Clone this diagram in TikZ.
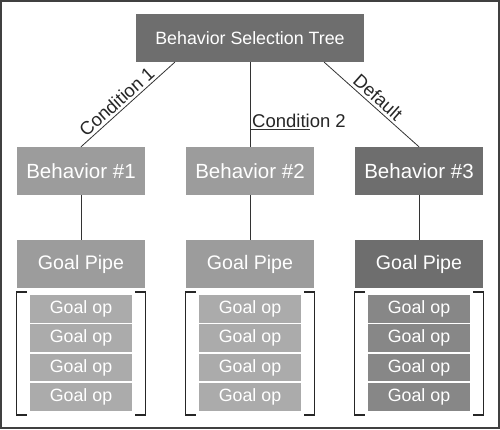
\documentclass[tikz,border=0pt]{standalone}
\usepackage{fontspec}
\setmainfont{Liberation Sans}
\begin{document}
\begin{tikzpicture}[x=1pt,y=-1pt,
  box/.style={draw=none,text=white,minimum width=128pt,minimum height=48pt,inner sep=0pt,font=\fontsize{20.5}{22}\selectfont},
  dark/.style={fill=black!57},
  mid/.style={fill=black!39},
  opbox/.style={draw=none,text=white,minimum width=102pt,minimum height=27.5pt,inner sep=0pt,font=\fontsize{17.8}{19}\selectfont},
  oplight/.style={fill=black!33},
  opdark/.style={fill=black!47},
  conn/.style={draw=black!80,line width=0.8pt},
  brk/.style={draw=black!85,line width=1.3pt},
  lbl/.style={font=\fontsize{18.5}{20}\selectfont,text=black!85,inner sep=2.5pt}
]
\useasboundingbox (0,0) rectangle (500,429);
\draw[draw=black!75,line width=2pt] (1,1) rectangle (499,428);

\node[box,dark,minimum width=228pt,font=\fontsize{17.8}{19}\selectfont] (top) at (250,38) {Behavior Selection Tree};

\node[box,mid] (b1) at (81,171) {Behavior \#1};
\node[box,mid] (b2) at (250,171) {Behavior \#2};
\node[box,dark] (b3) at (419,171) {Behavior \#3};

\node[box,mid,font=\fontsize{19.6}{21}\selectfont] (g1) at (81,264) {Goal Pipe};
\node[box,mid,font=\fontsize{19.6}{21}\selectfont] (g2) at (250,264) {Goal Pipe};
\node[box,dark,font=\fontsize{19.6}{21}\selectfont] (g3) at (419,264) {Goal Pipe};

\foreach \c/\x/\s in {1/81/oplight,2/250/oplight,3/419/opdark}{
  \node[opbox,\s] (o\c a) at (\x,309) {Goal op};
  \node[opbox,\s] (o\c b) at (\x,338) {Goal op};
  \node[opbox,\s] (o\c c) at (\x,367.5) {Goal op};
  \node[opbox,\s] (o\c d) at (\x,397) {Goal op};
  \draw[brk] (\x-54,292) -- (\x-64.5,292) -- (\x-64.5,415) -- (\x-54,415);
  \draw[brk] (\x+54,292) -- (\x+64.5,292) -- (\x+64.5,415) -- (\x+54,415);
}

\coordinate (t1) at ([xshift=39pt]top.south west);
\coordinate (t3) at ([xshift=-40pt]top.south east);
\draw[conn] (t1) -- (b1.north) node[pos=0.55,above,sloped,lbl] {Condition 1};
\draw[conn] (top.south) -- (b2.north);
\draw[conn] (t3) -- (b3.north) node[pos=0.5,above,sloped,lbl] {Default};
\coordinate (c2a) at (250,129.5);
\coordinate (c2b) at (310,129.5);
\draw[conn] (c2a) -- (c2b);
\node[lbl,anchor=south west,inner sep=2pt] (c2) at (c2a) {Condition 2};

\draw[conn] (b1) -- (g1);
\draw[conn] (b2) -- (g2);
\draw[conn] (b3) -- (g3);
\end{tikzpicture}
\end{document}
